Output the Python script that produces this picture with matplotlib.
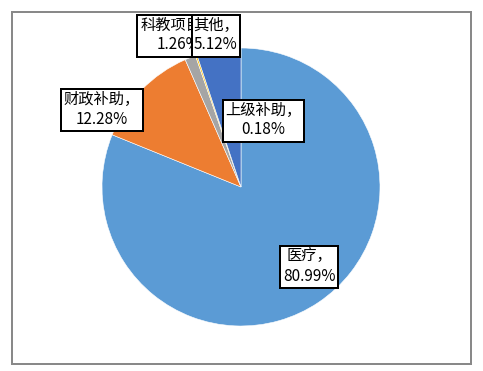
import matplotlib
matplotlib.use("Agg")
import matplotlib.pyplot as plt
from matplotlib.patches import Rectangle

plt.rcParams['font.family'] = ['Noto Sans CJK SC', 'DejaVu Sans']

# ---- data ----
categories = ['医疗', '财政补助', '科教项目', '上级补助', '其他']
values = [80.99, 12.28, 1.26, 0.18, 5.12]
pct_labels = ['80.99%', '12.28%', '1.26%', '0.18%', '5.12%']
colors = ['#5B9BD5', '#ED7D31', '#A5A5A5', '#FFC000', '#4472C4']

# ---- layout (pixel coords, figure 483x371) ----
W, H = 483, 371
DPI = 100
fig = plt.figure(figsize=(W / DPI, H / DPI), dpi=DPI)

cx, cy, r = 241, 187, 139
ax = fig.add_axes([(cx - r) / W, (H - cy - r) / H, 2 * r / W, 2 * r / H])
ax.pie(values, colors=colors, startangle=90, counterclock=False,
       wedgeprops=dict(edgecolor='white', linewidth=0.4), radius=1)
ax.set_xlim(-1, 1)
ax.set_ylim(-1, 1)
ax.set_aspect('equal')
ax.axis('off')

# overlay axes in pixel coordinates
ov = fig.add_axes([0, 0, 1, 1], zorder=5)
ov.set_xlim(0, W)
ov.set_ylim(H, 0)
ov.axis('off')
ov.patch.set_alpha(0)

px = 72 / DPI  # points per pixel
ov.add_patch(Rectangle((12, 12), 458.5, 352, fill=False, edgecolor='#898989',
                       linewidth=2 * px, zorder=1))

# label boxes: (x0, y0, x1, y1, text center x, visible right edge)
boxes = {
    '财政补助': (61.3, 89.3, 143, 131.3, 102, None),
    '科教项目': (136.7, 15, 217, 56.7, 178.5, 191.7),
    '其他': (191.7, 15, 239.7, 56.7, 215.7, None),
    '上级补助': (223.3, 99.7, 304, 141.7, 263.7, None),
    '医疗': (280.3, 246, 337.7, 288.3, 309, None),
}
FS = 11
order = ['财政补助', '医疗', '上级补助', '科教项目', '其他']
for z, name in enumerate(order):
    i = categories.index(name)
    x0, y0, x1, y1, tx, vis = boxes[name]
    zz = 2 + 2 * z
    ov.add_patch(Rectangle((x0, y0), x1 - x0, y1 - y0, facecolor='white',
                           edgecolor='black', linewidth=2 * px, zorder=zz))
    ym = (y0 + y1) / 2
    t1 = ov.text(tx, ym - 10.5, name + '，', ha='center', va='center', fontsize=FS,
                 color='black', zorder=zz + 1)
    t2 = ov.text(tx, ym + 9, pct_labels[i], ha='center', va='center', fontsize=FS,
                 color='black', zorder=zz + 1)
    if vis is not None:
        clip = Rectangle((x0, y0), vis - x0, y1 - y0, transform=ov.transData)
        t1.set_clip_path(clip)
        t2.set_clip_path(clip)

fig.savefig('out.png', dpi=DPI, facecolor='white')
